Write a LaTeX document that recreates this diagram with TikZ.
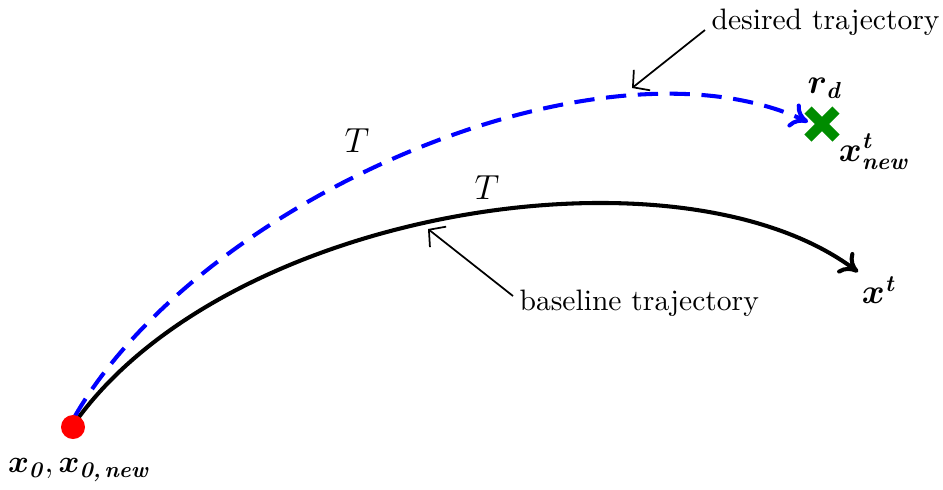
\documentclass[tikz,border=0pt]{standalone}
\usepackage{amsmath,bm}
\usetikzlibrary{arrows.meta,calc}
\begin{document}
\begin{tikzpicture}[x=0.345pt,y=-0.345pt,
  traj/.style={line width=1.4pt},
  note/.style={line width=0.6pt,-{Straight Barb[length=4pt,width=9pt]}},
  lbl/.style={inner sep=0pt,font=\fontsize{10.2}{12}\selectfont},
  mlbl/.style={inner sep=0pt,font=\large}]
\useasboundingbox (0,0) rectangle (943,489);
% points
\coordinate (s) at (76,421);
\coordinate (bend) at (858,272);
\coordinate (dend) at (808,122);
% baseline trajectory
\draw[traj,-{To[length=6pt,width=9pt]}] (s) .. controls (230,208) and (680,138) .. (bend);
% desired trajectory
\draw[traj,blue,dash pattern=on 7pt off 4pt,-{To[length=6pt,width=9pt]}] (75,416) .. controls (200,200) and (600,25) .. (dend);
% start dot
\node[circle,fill=red,minimum size=24*0.345pt,inner sep=0pt] (start) at (73,427) {};
% target cross
\coordinate (rd) at (822,124);
\draw[line width=3.5pt,green!55!black] ($(rd)+(-14,-14)$) -- ($(rd)+(14,14)$) ($(rd)+(-14,14)$) -- ($(rd)+(14,-14)$);
% labels
\node[mlbl] (lrd) at (825,88) {$\bm{r}_{\textbf{\textit{d}}}$};
\node[mlbl] (lxn) at (874,152) {$\bm{x}^{\textbf{\textit{t}}}_{\textbf{\textit{new}}}$};
\node[mlbl] (lxt) at (879,290) {$\bm{x}^{\textbf{\textit{t}}}$};
\node[inner sep=0pt,font=\fontsize{11}{13}\selectfont] (lx0) at (79,470) {$\bm{x}_{\textbf{\textit{0}}}, \bm{x}_{\textbf{\textit{0,\,new}}}$};
\node[mlbl] (T1) at (357,141) {$T$};
\node[mlbl] (T2) at (487,188) {$T$};
% annotations
\node[lbl,anchor=west] (dtxt) at (711,22) {desired trajectory};
\node[lbl,anchor=west] (btxt) at (519,303) {baseline trajectory};
\coordinate (dtip) at (632,88);
\coordinate (btip) at (428,229);
\draw[note] (705,30) -- (dtip);
\draw[note] (513,296) -- (btip);
\end{tikzpicture}
\end{document}
